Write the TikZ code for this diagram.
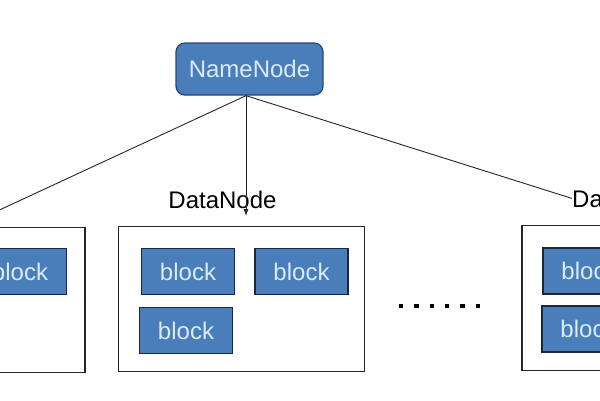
\documentclass[tikz,border=0pt]{standalone}
\usepackage{fontspec}
\setmainfont{Liberation Sans}
\usetikzlibrary{arrows.meta}

\definecolor{blockblue}{RGB}{74,126,187}
\definecolor{blockedge}{RGB}{28,40,62}
\definecolor{blocktext}{RGB}{218,235,250}
\definecolor{nameedge}{RGB}{40,70,120}

\begin{document}
\begin{tikzpicture}[x=1pt, y=-1pt,
  blk/.style={draw=blockedge, line width=1.3pt, fill=blockblue, text=blocktext,
    minimum width=93pt, minimum height=46pt, inner sep=0pt,
    font=\fontsize{24}{28}\selectfont},
  dnbox/.style={draw=black!85, line width=1.2pt, minimum width=246pt,
    minimum height=145pt, inner sep=0pt},
  lbl/.style={inner sep=0pt, font=\fontsize{24}{28}\selectfont},
  link/.style={line width=0.9pt, draw=black!85}]
  \useasboundingbox (0,0) rectangle (600,400);
  \fill[white] (0,0) rectangle (600,400);
  \clip (0,0) rectangle (600,400);

  \node[draw=nameedge, line width=1.3pt, fill=blockblue, text=blocktext,
    rounded corners=9pt, minimum width=147pt, minimum height=52pt,
    font=\fontsize{24}{28}\selectfont] (nn) at (249.5,69) {NameNode};

  % datanodes
  \node[dnbox] (dn1) at (-38,299.75) {};
  \node[dnbox] (dn2) at (241.75,299.25) {};
  \node[dnbox] (dn3) at (645,297.75) {};

  \node[lbl, anchor=base] (lb2) at (222.5,208) {DataNode};
  \node[lbl, anchor=base west] (lb3) at (572,207) {DataNode};

  % blocks
  \node[blk] (b11) at (20,271.5) {block};
  \node[blk] (b21) at (188,271.5) {block};
  \node[blk] (b22) at (301.5,271.5) {block};
  \node[blk] (b23) at (186,330.5) {block};
  \node[blk] (b31) at (589.5,271) {block};
  \node[blk] (b32) at (588.5,329) {block};

  \foreach \i in {0,...,5} {%
    \fill (401+15.4*\i-2.2,306-2.2) rectangle ++(4.4,4.4);%
  }%

  \coordinate (nt) at ([xshift=-3.5pt]nn.south);
  \coordinate (dl) at (-20,219);
  \draw[link] (nt) -- (dl);
  \draw[link, -{Latex[length=7pt,width=5pt]}, shorten >=10pt] (nt) -- (nt |- dn2.north);
  \draw[link] (nt) -- (lb3.west);
\end{tikzpicture}
\end{document}
